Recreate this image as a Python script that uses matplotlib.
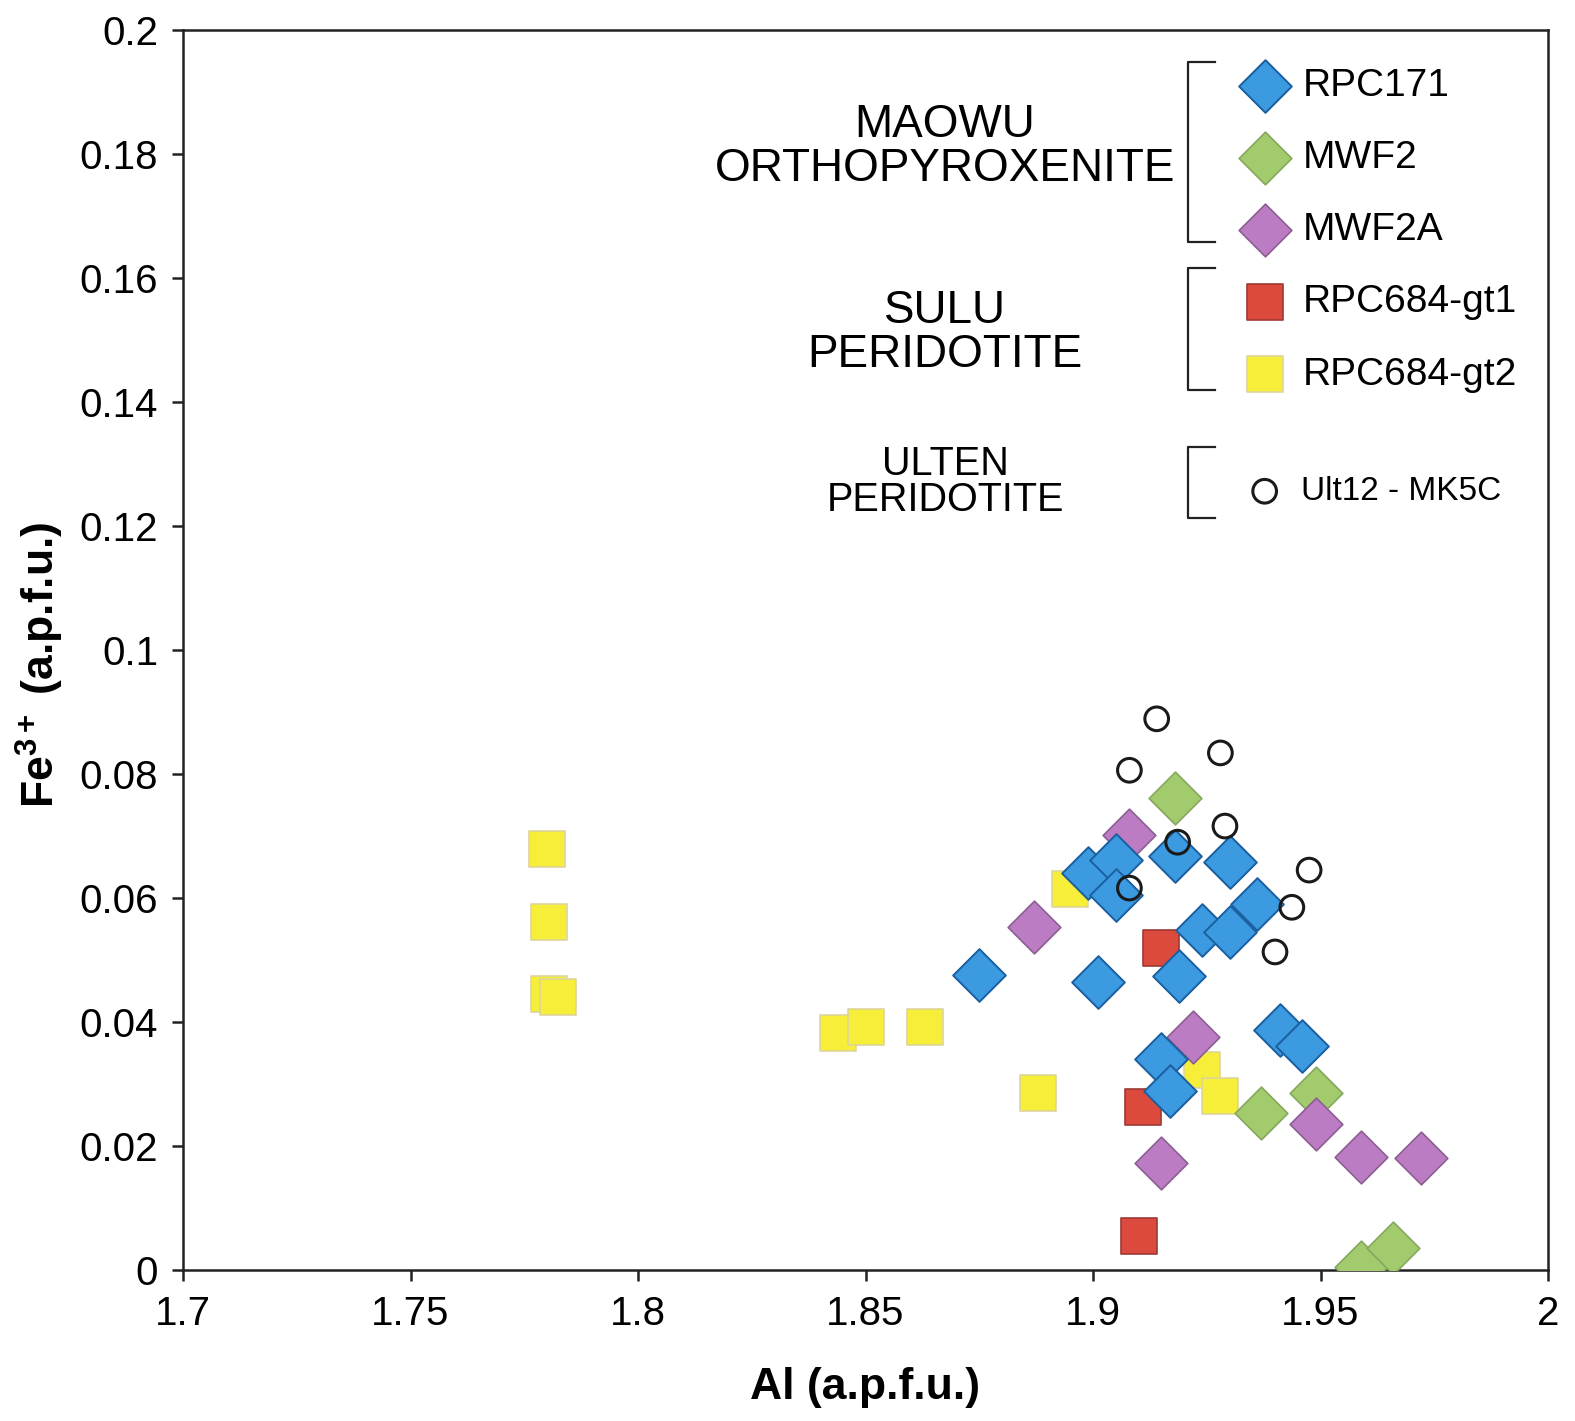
import matplotlib
matplotlib.use("Agg")
import matplotlib.pyplot as plt
from matplotlib.lines import Line2D

plt.rcParams['font.family'] = ['Liberation Sans', 'DejaVu Sans']
plt.rcParams['mathtext.fontset'] = 'custom'
plt.rcParams['mathtext.bf'] = 'Liberation Sans:bold'
plt.rcParams['mathtext.rm'] = 'Liberation Sans'

# Al (x) vs Fe3+ (y), a.p.f.u.
rpc171_x = [1.875, 1.899, 1.905, 1.905, 1.918, 1.930, 1.924, 1.930, 1.936, 1.919, 1.901, 1.941, 1.946, 1.915, 1.917]
rpc171_y = [0.0476, 0.0640, 0.0661, 0.0605, 0.0668, 0.0658, 0.0549, 0.0545, 0.0591, 0.0475, 0.0464, 0.0387, 0.0362, 0.0340, 0.0288]

mwf2_x = [1.918, 1.937, 1.949, 1.959, 1.966]
mwf2_y = [0.0761, 0.0253, 0.0285, 0.0005, 0.0035]

mwf2a_x = [1.908, 1.887, 1.922, 1.915, 1.949, 1.959, 1.972]
mwf2a_y = [0.0702, 0.0553, 0.0376, 0.0172, 0.0236, 0.0182, 0.0180]

gt1_x = [1.915, 1.911, 1.910]
gt1_y = [0.0519, 0.0263, 0.0055]

gt2_x = [1.780, 1.7805, 1.7805, 1.7825, 1.844, 1.850, 1.863, 1.888, 1.895, 1.924, 1.928]
gt2_y = [0.0679, 0.0561, 0.0445, 0.0440, 0.0382, 0.0392, 0.0392, 0.0286, 0.0615, 0.0323, 0.0280]

ult_x = [1.914, 1.908, 1.928, 1.929, 1.9186, 1.908, 1.9475, 1.9437, 1.940]
ult_y = [0.0889, 0.0806, 0.0834, 0.0716, 0.0690, 0.0616, 0.0645, 0.0585, 0.0513]

x_ticks = [1.7, 1.75, 1.8, 1.85, 1.9, 1.95, 2.0]
x_ticklabels = ['1.7', '1.75', '1.8', '1.85', '1.9', '1.95', '2']
y_ticks = [0, 0.02, 0.04, 0.06, 0.08, 0.1, 0.12, 0.14, 0.16, 0.18, 0.2]
y_ticklabels = ['0', '0.02', '0.04', '0.06', '0.08', '0.1', '0.12', '0.14', '0.16', '0.18', '0.2']

W, H = 1575, 1421
fig = plt.figure(figsize=(W / 100, H / 100), dpi=100)
ax = fig.add_axes([183 / W, 1 - 1270 / H, (1548 - 183) / W, (1270 - 30) / H])


def fx(px):
    return px / W


def fy(py):
    return 1 - py / H


# draw order follows the overlaps in the picture
p_gt2 = ax.scatter(gt2_x, gt2_y, marker='s', s=700, c='#f7ee3a', edgecolors='#dcd59a', linewidths=1.2, zorder=2, label='RPC684-gt2')
p_gt1 = ax.scatter(gt1_x, gt1_y, marker='s', s=700, c='#dc4a3e', edgecolors='#9c3a34', linewidths=1.2, zorder=3, label='RPC684-gt1')
p_mwf2 = ax.scatter(mwf2_x, mwf2_y, marker='D', s=720, c='#a2cb6d', edgecolors='#86a75e', linewidths=1.2, zorder=4, label='MWF2')
p_mwf2a = ax.scatter(mwf2a_x, mwf2a_y, marker='D', s=720, c='#bb7cc3', edgecolors='#8c5f92', linewidths=1.2, zorder=5, label='MWF2A')
p_rpc = ax.scatter(rpc171_x, rpc171_y, marker='D', s=720, c='#3c9be0', edgecolors='#1b5f9f', linewidths=1.4, zorder=6, label='RPC171')
p_ult = ax.scatter(ult_x, ult_y, marker='o', s=290, facecolors='none', edgecolors='#1a1a1a', linewidths=2.2, zorder=7, label='Ult12 - MK5C')

ax.set_xlim(1.7, 2.0)
ax.set_ylim(0, 0.2)
ax.set_xticks(x_ticks)
ax.set_xticklabels(x_ticklabels)
ax.set_yticks(y_ticks)
ax.set_yticklabels(y_ticklabels)
ax.tick_params(direction='out', length=8, width=1.8, labelsize=29, pad=10, color='#222222')
for sp in ax.spines.values():
    sp.set_linewidth(1.8)
    sp.set_color('#222222')

fig.text(fx(865), fy(1388), 'Al (a.p.f.u.)', fontsize=32, fontweight='bold', ha='center', va='center')
fig.text(fx(40), fy(665), r'Fe$^{\mathbf{3+}}$ (a.p.f.u.)', fontsize=32, fontweight='bold',
         ha='center', va='center', rotation=90)

# legend blocks
leg1 = ax.legend(handles=[p_rpc, p_mwf2, p_mwf2a, p_gt1, p_gt2], loc='upper left',
                 bbox_to_anchor=(fx(1238), fy(68)), bbox_transform=fig.transFigure,
                 frameon=False, fontsize=28, scatterpoints=1, handlelength=1.4,
                 handletextpad=0.26, labelspacing=0.93, borderpad=0, borderaxespad=0)
ax.add_artist(leg1)
ax.legend(handles=[p_ult], loc='upper left', bbox_to_anchor=(fx(1238), fy(476)),
          bbox_transform=fig.transFigure, frameon=False, fontsize=24, scatterpoints=1,
          handlelength=1.6, handletextpad=0.3, borderpad=0, borderaxespad=0)

fig.text(fx(945), fy(147), 'MAOWU\nORTHOPYROXENITE', fontsize=33, ha='center', va='center', linespacing=1.0)
fig.text(fx(945), fy(333), 'SULU\nPERIDOTITE', fontsize=33, ha='center', va='center', linespacing=1.0)
fig.text(fx(945), fy(482), 'ULTEN\nPERIDOTITE', fontsize=28.5, ha='center', va='center', linespacing=0.95)

for top, bot in [(62, 242), (268, 390), (447, 518)]:
    fig.add_artist(Line2D([fx(1215), fx(1188), fx(1188), fx(1215)],
                          [fy(top), fy(top), fy(bot), fy(bot)],
                          transform=fig.transFigure, color='#222222', lw=1.6))

fig.savefig('out.png', dpi=100)
